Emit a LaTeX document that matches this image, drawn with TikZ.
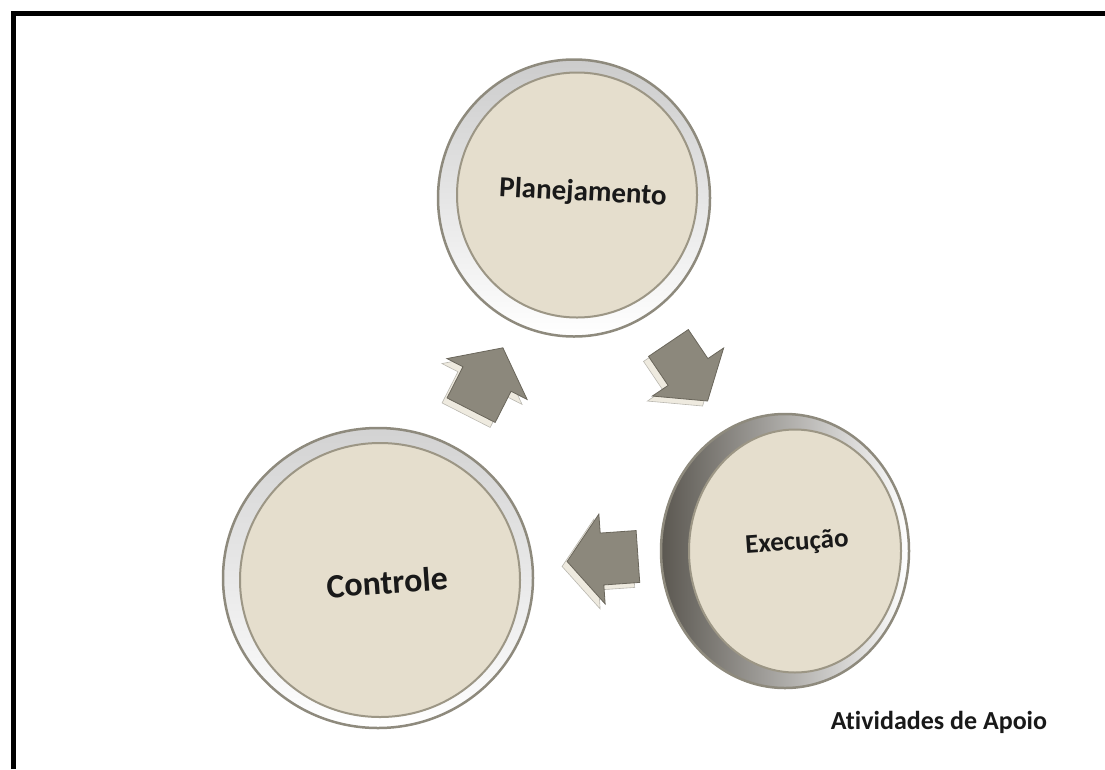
\documentclass[tikz,border=0pt]{standalone}
\usepackage{fontspec}
\setmainfont{Carlito}[Ligatures=NoCommon]
\usetikzlibrary{shapes.geometric}
\definecolor{discbeige}{HTML}{E5DECD}
\definecolor{discedge}{HTML}{9C9685}
\definecolor{ringgrey}{HTML}{8E8A7D}
\definecolor{ringdark}{HTML}{3E3A32}
\definecolor{arrowgrey}{HTML}{8C887C}
\definecolor{arrowedge}{HTML}{6A665B}
\definecolor{arrowlight}{HTML}{EEEADF}

\begin{document}
\begin{tikzpicture}[x=1pt, y=-1pt,
    ring/.style={ellipse, inner sep=0pt, draw=ringgrey, line width=2.5pt},
    disc/.style={ellipse, inner sep=0pt, draw=discedge, line width=2pt, fill=discbeige},
    phase/.style={text=black!90, inner sep=0pt},
    blockarrow/.style={fill=arrowgrey, draw=arrowedge, line width=0.8pt},
    blockshade/.style={fill=arrowlight, draw=arrowgrey!60, line width=0.6pt}]
    \useasboundingbox (0,0) rectangle (1105,769);
    \draw[line width=5pt] (13.5,769) -- (13.5,13.5) -- (1105,13.5);

    % planejamento
    \node[ring, minimum width=272pt, minimum height=277pt, top color=gray!40, bottom color=white] (plan-ring) at (574,198) {};
    \node[disc, minimum width=240pt, minimum height=245pt] (plan) at (577,195) {};
    \node[phase, font=\bfseries\fontsize{29}{34}\selectfont, rotate=-3] (plan-text) at (583,193) {Planejamento};

    % execucao
    \node[ring, minimum width=248pt, minimum height=274pt, left color=ringdark!85, middle color=white, right color=white] (exec-ring) at (785,551) {};
    \node[disc, minimum width=212pt, minimum height=243pt] (exec) at (795,551) {};
    \node[phase, font=\bfseries\fontsize{27}{32}\selectfont, rotate=4] (exec-text) at (797,543) {Execução};

    % controle
    \node[ring, minimum width=310pt, minimum height=300pt, top color=gray!35, bottom color=white] (ctrl-ring) at (378,578) {};
    \node[disc, minimum width=280pt, minimum height=274pt] (ctrl) at (380,580) {};
    \node[phase, font=\bfseries\fontsize{34}{40}\selectfont, rotate=4] (ctrl-text) at (387,582) {Controle};

    % setas do ciclo
    \begin{scope}[shift={(487,379)}]
        \filldraw[blockshade, shift={(-5,5)}, rotate=63] (-35,-27) -- (0,-27) -- (0,-45) -- (35,0) -- (0,45) -- (0,27) -- (-35,27) -- cycle;
        \filldraw[blockarrow, rotate=63] (-35,-27) -- (0,-27) -- (0,-45) -- (35,0) -- (0,45) -- (0,27) -- (-35,27) -- cycle;
    \end{scope}
    \begin{scope}[shift={(688,372)}]
        \filldraw[blockshade, shift={(-5,5)}, rotate=-56] (-35,-24) -- (0,-24) -- (0,-43) -- (35,0) -- (0,43) -- (0,24) -- (-35,24) -- cycle;
        \filldraw[blockarrow, rotate=-56] (-35,-24) -- (0,-24) -- (0,-43) -- (35,0) -- (0,43) -- (0,24) -- (-35,24) -- cycle;
    \end{scope}
    \begin{scope}[shift={(602,559)}]
        \filldraw[blockshade, shift={(-5,5)}, rotate=184] (-36,-26) -- (0,-26) -- (0,-45) -- (35,0) -- (0,45) -- (0,26) -- (-36,26) -- cycle;
        \filldraw[blockarrow, rotate=184] (-36,-26) -- (0,-26) -- (0,-45) -- (35,0) -- (0,45) -- (0,26) -- (-36,26) -- cycle;
    \end{scope}

    \node[phase, font=\bfseries\fontsize{26}{30}\selectfont] (apoio) at (939,722) {Atividades de Apoio};
\end{tikzpicture}
\end{document}
